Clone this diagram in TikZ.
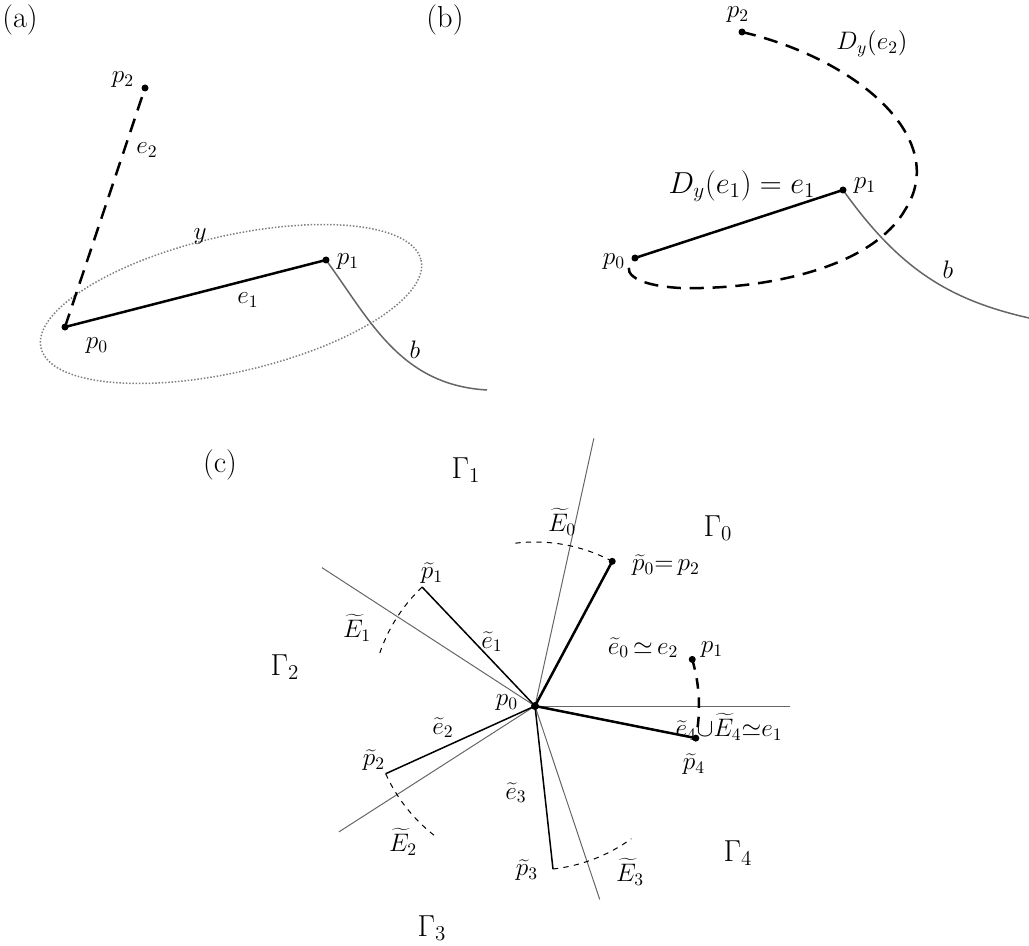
\documentclass[tikz,border=0pt]{standalone}
\usetikzlibrary{calc}
\tikzstyle{epais}=[line width=0.5mm, line cap=butt]
\tikzstyle{fin}=[gray!80!black, line width=0.3mm]
\tikzstyle{etiq}=[font=\Large, inner sep=1pt]
\tikzstyle{region}=[font=\LARGE, inner sep=1pt]
\begin{document}
\begin{tikzpicture}[x=0.02cm,y=-0.02cm]
\useasboundingbox (0,0) rectangle (1029,946);

%%%%%%%%%%%%%%%%%%%%%%%%
%Figure (a)
%%%%%%%%%%%%%%%%%%%%%%%%
\node[font=\LARGE] (la) at (20,20) {(a)};
\coordinate (a0) at (65,327);
\coordinate (a1) at (326,260);
\coordinate (a2) at (145,88);
\draw[densely dotted, gray, line width=0.3mm] (231,304) ellipse [x radius=195, y radius=68, rotate=13];
\draw[epais] (a0) -- (a1);
\draw[epais, dashed, dash pattern=on 8pt off 5pt] (a0) -- (a2);
\draw[fin] (a1) .. controls (370,320) and (400,385) .. (487,390);
\fill (a0) circle (3.5) (a1) circle (3.5) (a2) circle (3.5);
\node[etiq] at (248,300) {$e_1$};
\node[etiq] at (123,80) {$p_2$};
\node[etiq] at (147,150) {$e_2$};
\node[etiq] at (200,237) {$y$};
\node[etiq] at (97,346) {$p_0$};
\node[etiq] at (348,262) {$p_1$};
\node[etiq] at (415,350) {$b$};

%%%%%%%%%%%%%%%%%%%%%%%%
%Figure (b)
%%%%%%%%%%%%%%%%%%%%%%%%
\node[font=\LARGE] (lb) at (445,20) {(b)};
\coordinate (b0) at (635,258);
\coordinate (b1) at (843,190);
\coordinate (b2) at (742,32);
\draw[epais] (b0) -- (b1);
\draw[fin] (b1) .. controls (900,270) and (950,300) .. (1029,318);
\draw[epais, dashed, dash pattern=on 8pt off 5pt] (b2) .. controls (860,60) and (950,140) .. (905,210)
  .. controls (870,270) and (760,290) .. (680,288) .. controls (630,285) and (620,270) .. (b0);
\fill (b0) circle (3.5) (b1) circle (3.5) (b2) circle (3.5);
\node[font=\LARGE] at (742,186) {$D_y(e_1)=e_1$};
\node[etiq] at (865,186) {$p_1$};
\node[etiq] at (614,262) {$p_0$};
\node[etiq] at (738,15) {$p_2$};
\node[etiq] at (872,44) {$D_y(e_2)$};
\node[etiq] at (948,270) {$b$};

%%%%%%%%%%%%%%%%%%%%%%%%
%Figure (c)
%%%%%%%%%%%%%%%%%%%%%%%%
\node[font=\LARGE] (lc) at (220,465) {(c)};
\coordinate (c0) at (535,706);
%demi-droites grises (angles comptés vers le bas, l'axe y est inversé)
\foreach \ang/\lon in {-77.6/274, 0/255, -147/254, -212.7/233, -288.5/204}
  \draw[fin, line width=0.2mm] (c0) -- ++(\ang:\lon);
%sommets relevés
\foreach \nom/\ang in {q0/-61.9, q1/-133.5, q2/-204.4, q3/-276.3, q4/11.3, q5/-16.5}
  \coordinate (\nom) at ($(c0)+(\ang:164)$);
%arcs en pointillés
\draw[dashed, line width=0.2mm] (q0) arc[start angle=-61.9, end angle=-97, radius=164];
\draw[dashed, line width=0.2mm] (q1) arc[start angle=-133.5, end angle=-162, radius=164];
\draw[dashed, line width=0.2mm] (q2) arc[start angle=-204.4, end angle=-232, radius=164];
\draw[dashed, line width=0.2mm] (q3) arc[start angle=-276.3, end angle=-306, radius=164];
\draw[epais, dashed, dash pattern=on 6pt off 5pt] (q5) arc[start angle=-16.5, end angle=11.3, radius=164];
%arêtes
\draw[epais] (c0) -- (q0);
\draw[epais] (c0) -- (q4);
\draw[line width=0.3mm] (c0) -- (q1);
\draw[line width=0.3mm] (c0) -- (q2);
\draw[line width=0.3mm] (c0) -- (q3);
\fill (c0) circle (4) (q0) circle (3.5) (q4) circle (3.5) (q5) circle (3.5);
%étiquettes
\node[region] at (466,470) {$\Gamma_1$};
\node[region] at (718,528) {$\Gamma_0$};
\node[region] at (285,667) {$\Gamma_2$};
\node[region] at (738,853) {$\Gamma_4$};
\node[region] at (432,928) {$\Gamma_3$};
\node[etiq] at (562,522) {$\widetilde{E}_0$};
\node[etiq] at (666,565) {$\widetilde{p}_0{=}\,p_2$};
\node[etiq] at (357,628) {$\widetilde{E}_1$};
\node[etiq] at (432,573) {$\widetilde{p}_1$};
\node[etiq] at (492,642) {$\widetilde{e}_1$};
\node[etiq] at (643,648) {$\widetilde{e}_0\,{\simeq}\,e_2$};
\node[etiq] at (712,650) {$p_1$};
\node[etiq] at (507,703) {$p_0$};
\node[etiq] at (443,728) {$\widetilde{e}_2$};
\node[etiq] at (729,727) {$\widetilde{e}_4{\cup}\widetilde{E}_4{\simeq}e_1$};
\node[etiq] at (374,760) {$\widetilde{p}_2$};
\node[etiq] at (694,764) {$\widetilde{p}_4$};
\node[etiq] at (516,793) {$\widetilde{e}_3$};
\node[etiq] at (403,842) {$\widetilde{E}_2$};
\node[etiq] at (527,870) {$\widetilde{p}_3$};
\node[etiq] at (630,872) {$\widetilde{E}_3$};
\end{tikzpicture}
\end{document}
